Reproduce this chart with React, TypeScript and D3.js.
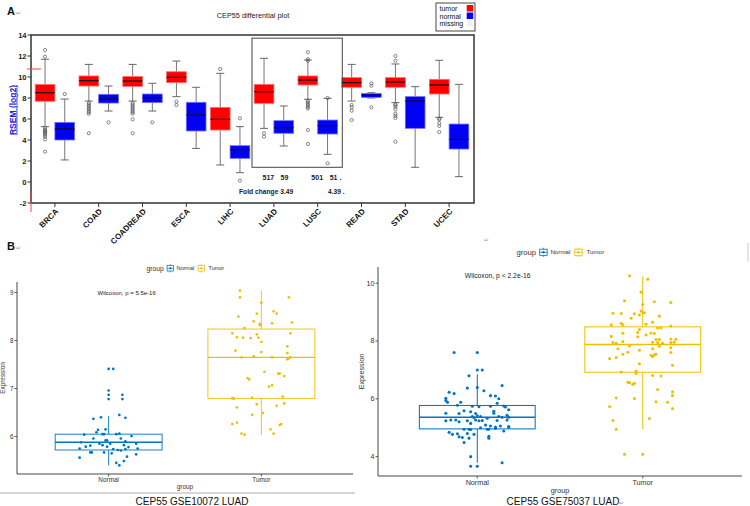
import React from 'react';
import * as d3 from 'd3';

// ---------------- Panel A data ----------------
const cancerTypes = ['BRCA', 'COAD', 'COADREAD', 'ESCA', 'LIHC', 'LUAD', 'LUSC', 'READ', 'STAD', 'UCEC'];
// [lowerWhisker, q1, median, q3, upperWhisker]
const tumorStats = [
  [5.27, 7.69, 8.5, 9.3, 11.69],
  [7.71, 9.14, 9.65, 10.1, 11.2],
  [7.71, 9.1, 9.62, 10.05, 11.2],
  [8.13, 9.46, 9.97, 10.5, 11.52],
  [1.62, 4.95, 5.97, 7.11, 10.35],
  [5.11, 7.49, 8.6, 9.3, 11.78],
  [7.88, 9.24, 9.71, 10.1, 11.62],
  [7.71, 9.02, 9.46, 9.94, 11.2],
  [7.56, 9.02, 9.52, 9.94, 11.24],
  [6.16, 8.38, 9.24, 9.78, 11.59],
];
const normalStats = [
  [2.1, 4.0, 5.05, 5.68, 7.9],
  [6.76, 7.52, 7.9, 8.35, 9.14],
  [6.76, 7.56, 8.03, 8.38, 9.4],
  [3.2, 4.86, 6.38, 7.59, 9.02],
  [0.89, 2.25, 3.08, 3.46, 5.27],
  [3.43, 4.64, 5.17, 5.84, 7.24],
  [2.64, 4.57, 5.37, 5.9, 7.97],
  [8.0, 8.06, 8.25, 8.44, 8.5],
  [1.4, 5.11, 7.71, 8.13, 9.08],
  [0.51, 3.14, 4.06, 5.52, 9.3],
];
const tumorOutliers = [
  [12.57, 11.93, 5.15, 5.0, 4.9, 4.8, 4.7, 4.6, 4.45, 4.3, 4.05, 2.89],
  [7.55, 7.4, 7.25, 7.1, 6.95, 6.8, 6.65, 6.5, 4.64],
  [7.55, 7.4, 7.25, 7.1, 6.95, 6.8, 6.65, 6.5, 5.97, 4.64],
  [7.65, 7.33],
  [10.76],
  [4.64, 4.32],
  [12.35, 11.7, 11.55, 7.75, 7.6, 7.45, 7.3, 7.15, 7.0, 4.95, 3.62],
  [7.33, 7.11, 6.79, 5.9],
  [12.0, 11.55, 7.4, 7.3, 7.15, 6.9, 6.5, 6.3, 6.1, 3.84],
  [6.05, 5.95, 5.6, 5.35, 4.75],
];
const normalOutliers = [
  [8.38],
  [5.68],
  [5.68],
  [],
  [6.06, 0.13],
  [],
  [8.0, 1.78],
  [9.4, 9.17, 7.11],
  [],
  [],
];
const yTicksA = [-2, 0, 2, 4, 6, 8, 10, 12, 14];
const legendLabelsA = ['tumor', 'normal', 'missing'];
const sampleCounts = ['517', '59', '501', '51 .'];
const foldChanges = ['Fold change 3.49', '4.39 .'];

// ---------------- Panel B data ----------------
const groups = ['Normal', 'Tumor'];
// [lowerWhisker, q1, median, q3, upperWhisker]
const gse10072Stats = [
  [5.40, 5.72, 5.88, 6.05, 6.43],
  [6.03, 6.79, 7.65, 8.24, 9.04],
];
const gse75037Stats = [
  [3.79, 4.96, 5.36, 5.77, 6.85],
  [4.96, 6.92, 7.88, 8.49, 10.25],
];
// [jitter (in category steps), expression]
const gse10072Normal = [
  [0, 7.41], [0.03, 7.41], [0, 6.96], [0, 6.87], [0, 6.78], [0.09, 6.87], [0.09, 6.78],
  [-0.1, 6.37], [-0.05, 6.4], [0.07, 6.45], [0.11, 6.39], [-0.07, 6.14], [-0.02, 6.15],
  [-0.08, 6.09], [-0.16, 6.04], [-0.04, 6.05], [-0.03, 6.05], [0.05, 6.05], [0.07, 6.06],
  [0.15, 6.01], [-0.1, 5.96], [0.08, 5.96], [-0.02, 5.92], [-0.01, 5.92], [0.11, 5.9],
  [-0.18, 5.88], [-0.12, 5.81], [-0.15, 5.79], [-0.04, 5.82], [-0.01, 5.79], [0.1, 5.82],
  [0.18, 5.85], [-0.19, 5.75], [0.13, 5.78], [0.03, 5.74], [0.19, 5.75], [0.06, 5.72],
  [0.08, 5.71], [0.11, 5.74], [-0.12, 5.67], [-0.11, 5.67], [-0.03, 5.67], [0.02, 5.65],
  [0.18, 5.63], [-0.19, 5.56], [0.12, 5.58], [0.05, 5.45], [0.1, 5.49], [0.07, 5.4],
  [0.01, 5.85], [-0.06, 5.85],
];
const gse10072Tumor = [
  [-0.14, 9.04], [-0.14, 8.9], [0.18, 8.9], [0, 8.79], [-0.15, 8.5], [-0.03, 8.56],
  [0.08, 8.61], [0.1, 8.56], [-0.05, 8.4], [-0.01, 8.35], [-0.01, 8.32], [0.07, 8.36],
  [0.2, 8.38], [-0.11, 8.26], [-0.19, 8.15], [-0.03, 8.13], [0.19, 8.15], [-0.16, 8.07],
  [-0.12, 8.06], [-0.07, 8.05], [-0.02, 8.06], [0, 7.97], [0.17, 7.88], [-0.17, 7.79],
  [0, 7.76], [0.17, 7.74], [-0.13, 7.65], [-0.05, 7.67], [0.07, 7.65], [0.17, 7.61],
  [0.19, 7.65], [0.18, 7.63], [0.02, 7.35], [0.11, 7.31], [0.12, 7.31], [0.15, 7.26],
  [-0.09, 7.22], [-0.08, 7.19], [0.07, 7.07], [0.05, 7.04], [-0.19, 6.8], [-0.18, 6.79],
  [-0.06, 6.81], [0.14, 6.83], [-0.16, 6.61], [-0.03, 6.67], [0.1, 6.64], [0.15, 6.69],
  [-0.06, 6.45], [0.01, 6.49], [-0.19, 6.26], [-0.16, 6.29], [0.12, 6.24], [0.13, 6.26],
  [-0.13, 6.06], [-0.11, 6.04], [0.06, 6.15], [0.08, 6.06],
];
const gse75037Normal = [
  [-0.14, 7.6], [0, 7.6], [0, 7.0], [0.03, 7.0], [-0.05, 6.8], [0.15, 6.46], [-0.06, 6.37],
  [0, 6.39], [-0.17, 6.23], [-0.14, 6.18], [0.04, 6.28], [0.08, 6.11], [0.11, 6.1],
  [-0.19, 6.02], [-0.19, 5.94], [-0.18, 5.88], [-0.1, 5.88], [0.13, 6.0], [0.12, 5.85],
  [-0.03, 5.74], [0.08, 5.74], [0.16, 5.75], [-0.12, 5.78], [0.01, 5.73], [0.17, 5.72],
  [-0.08, 5.59], [-0.04, 5.55], [0.1, 5.57], [0.1, 5.5], [0.19, 5.62], [-0.19, 5.5],
  [-0.11, 5.49], [-0.01, 5.49], [0, 5.41], [-0.03, 5.39], [-0.02, 5.35], [0.02, 5.39],
  [0.06, 5.33], [0.13, 5.39], [0.18, 5.43], [0.19, 5.36], [0.15, 5.36], [-0.16, 5.27],
  [-0.13, 5.27], [-0.19, 5.24], [-0.06, 5.24], [-0.01, 5.27], [0.01, 5.24], [0.03, 5.25],
  [0.12, 5.25], [0.18, 5.27], [-0.11, 5.21], [-0.04, 5.15], [0.05, 5.09], [0.08, 5.06],
  [0.11, 5.02], [0.14, 5.06], [0.19, 5.04], [-0.08, 4.95], [-0.05, 4.95], [-0.04, 4.94],
  [0.02, 5.0], [0.06, 4.95], [0.07, 4.95], [0.11, 4.97], [0.19, 5.02], [-0.17, 4.84],
  [-0.15, 4.77], [-0.12, 4.79], [-0.11, 4.69], [-0.09, 4.66], [-0.06, 4.8], [-0.02, 4.77],
  [0.07, 4.7], [0.07, 4.64], [0.16, 4.89], [-0.08, 4.49], [-0.05, 4.64], [-0.04, 4.0],
  [-0.04, 3.67], [0, 3.67], [0.15, 3.79],
];
const gse75037Tumor = [
  [-0.08, 10.26], [0.03, 10.14], [-0.01, 9.69], [-0.11, 9.39], [0.07, 9.36], [0.17, 9.33],
  [0, 9.26], [-0.01, 9.04], [0, 8.98], [-0.18, 8.96], [-0.13, 8.95], [-0.05, 8.94],
  [-0.02, 8.9], [0.01, 8.98], [0.1, 8.86], [-0.07, 8.79], [0.06, 8.65], [-0.19, 8.56],
  [-0.13, 8.61], [-0.12, 8.56], [0.02, 8.58], [0.09, 8.45], [0.11, 8.45], [0.17, 8.52],
  [-0.02, 8.4], [-0.03, 8.29], [-0.12, 8.27], [0.05, 8.28], [0.07, 8.26], [-0.19, 8.16],
  [-0.03, 8.15], [0.02, 8.21], [0.08, 8.05], [0.1, 8.05], [0.17, 8.07], [0.2, 8.06],
  [-0.18, 7.95], [-0.16, 7.92], [-0.12, 7.98], [0.06, 7.96], [0.09, 7.95], [0.12, 7.92],
  [0.17, 7.95], [0.19, 7.96], [-0.08, 7.83], [0.1, 7.82], [0.17, 7.77], [-0.15, 7.73],
  [-0.09, 7.61], [-0.02, 7.68], [0.06, 7.73], [-0.12, 7.54], [0.05, 7.51], [0.06, 7.46],
  [0.07, 7.52], [0.08, 7.54], [0.17, 7.6], [-0.2, 7.39], [-0.16, 7.43], [-0.02, 7.21],
  [0.18, 7.16], [-0.13, 6.93], [-0.04, 6.96], [-0.04, 6.88], [0.06, 6.81], [0.11, 6.79],
  [-0.09, 6.57], [-0.08, 6.56], [-0.06, 6.5], [-0.05, 6.54], [0.09, 6.32], [0.18, 6.24],
  [0.18, 6.11], [-0.16, 6.03], [-0.05, 6.01], [0.08, 5.9], [0.15, 5.88], [-0.2, 5.73],
  [0.18, 5.66], [0.04, 5.32], [-0.18, 5.25], [-0.16, 4.95], [-0.11, 4.08], [0, 4.08],
];
const yTicks10072 = [6, 7, 8, 9];
const yTicks75037 = [4, 6, 8, 10];

const FONT = 'Liberation Sans, Arial, Helvetica, sans-serif';
const RED = '#ff0000';
const BLUE = '#0000f5';
const NCOL = '#0073C2';
const TCOL = '#EFC000';

function PanelA() {
  const x = d3.scaleBand().domain(cancerTypes).range([33, 471]).padding(0);
  const y = d3.scaleLinear().domain([-2, 14]).range([203, 35]);
  const bw = x.bandwidth() * 0.45;
  const cap = 4;
  const frame = { x0: 31, x1: 474, y0: 35, y1: 203 };

  const drawBox = (key: string, cx: number, st: number[], outs: number[], fill: string, stroke: string) => {
    const [lo, q1, med, q3, hi] = st;
    return (
      <g key={key}>
        <line x1={cx} x2={cx} y1={y(hi)} y2={y(q3)} stroke="#777" strokeWidth={1} />
        <line x1={cx} x2={cx} y1={y(q1)} y2={y(lo)} stroke="#777" strokeWidth={1} />
        <line x1={cx - cap} x2={cx + cap} y1={y(hi)} y2={y(hi)} stroke="#666" strokeWidth={1} />
        <line x1={cx - cap} x2={cx + cap} y1={y(lo)} y2={y(lo)} stroke="#666" strokeWidth={1} />
        <rect x={cx - bw / 2} y={y(q3)} width={bw} height={Math.max(1, y(q1) - y(q3))} fill={fill} stroke={stroke} strokeWidth={0.8} />
        <line x1={cx - bw / 2} x2={cx + bw / 2} y1={y(med)} y2={y(med)} stroke="#111" strokeWidth={1.2} />
        {outs.map((o, i) => (
          <circle key={i} cx={cx} cy={y(o)} r={1.6} fill="none" stroke="#555" strokeWidth={0.7} />
        ))}
      </g>
    );
  };

  const cLUAD = x('LUAD')! + x.bandwidth() / 2;
  const cLUSC = x('LUSC')! + x.bandwidth() / 2;

  return (
    <g fontFamily={FONT}>
      <text x={7} y={15} fontSize={11} fontWeight="bold" fill="#111">A</text>
      <text x={16} y={15} fontSize={6} fill="#999">↵</text>
      <text x={253} y={18} fontSize={7.3} textAnchor="middle" fill="#222">CEP55 differential plot</text>

      {/* legend */}
      <rect x={436} y={3} width={39} height={28} fill="#fff" stroke="#333" strokeWidth={0.9} />
      {legendLabelsA.map((l, i) => (
        <g key={l}>
          <text x={439.5} y={11 + i * 7.6} fontSize={7} fill="#111">{l}</text>
          <rect x={466.7} y={5 + i * 7.5} width={6.5} height={6.5} fill={[RED, BLUE, '#f2f2f2'][i]} />
        </g>
      ))}

      {/* y axis */}
      {yTicksA.map(t => (
        <g key={t}>
          <line x1={27.5} x2={frame.x0} y1={y(t)} y2={y(t)} stroke="#333" strokeWidth={1} />
          <text x={26.5} y={y(t)} dy="0.35em" textAnchor="end" fontSize={7.5} fontWeight="bold" fill="#222">{t}</text>
        </g>
      ))}
      <text transform={`translate(15.5,${(frame.y0 + frame.y1) / 2 - 9}) rotate(-90)`} textAnchor="middle"
        fontSize={8.5} fontWeight="bold" fill="#2020e0" textDecoration="underline">RSEM (log2)</text>

      {/* boxes */}
      {cancerTypes.map((c, i) => {
        const cx = x(c)! + x.bandwidth() / 2;
        return (
          <g key={c}>
            {drawBox('t' + c, cx - bw / 2, tumorStats[i], tumorOutliers[i], RED, '#ff7070')}
            {drawBox('n' + c, cx + bw / 2, normalStats[i], normalOutliers[i], BLUE, '#7070ff')}
          </g>
        );
      })}

      {/* frame */}
      <rect x={frame.x0} y={frame.y0} width={frame.x1 - frame.x0} height={frame.y1 - frame.y0} fill="none" stroke="#333" strokeWidth={1.5} />

      {/* x axis ticks & labels */}
      {cancerTypes.map(c => {
        const cx = x(c)! + x.bandwidth() / 2;
        return (
          <g key={c}>
            <line x1={cx} x2={cx} y1={frame.y1} y2={frame.y1 + 4} stroke="#333" strokeWidth={1} />
            <text transform={`translate(${cx + 2},${frame.y1 + 7}) rotate(-45)`} textAnchor="end" dy="0.35em"
              fontSize={8} fontWeight="bold" fill="#111">{c}</text>
          </g>
        );
      })}

      {/* LUAD/LUSC highlight */}
      <rect x={x('LUAD')!} y={y(13.7)} width={x('LUSC')! + x.bandwidth() + 2.7 - x('LUAD')!} height={y(1.4) - y(13.7)}
        fill="none" stroke="#444" strokeWidth={1} />
      <text x={cLUAD - 5.5} y={180} fontSize={7} fontWeight="bold" textAnchor="middle" fill="#222">{sampleCounts[0]}</text>
      <text x={cLUAD + 10.5} y={180} fontSize={7} fontWeight="bold" textAnchor="middle" fill="#222">{sampleCounts[1]}</text>
      <text x={cLUSC - 0.5} y={180} fontSize={7} fontWeight="bold" textAnchor="middle" fill="#222">{sampleCounts[2]}</text>
      <text x={cLUSC + 12} y={180} fontSize={7} fontWeight="bold" textAnchor="start" fill="#222">{sampleCounts[3]}</text>
      <text x={239} y={193.5} fontSize={6.7} fontWeight="bold" fill="#222">{foldChanges[0]}</text>
      <text x={328} y={193.5} fontSize={6.7} fontWeight="bold" fill="#222">{foldChanges[1]}</text>

      {/* red marks */}
      <line x1={27} x2={41} y1={69} y2={69} stroke="#ff4040" strokeWidth={1} />
      <line x1={31} x2={31} y1={193} y2={212} stroke="#ff4040" strokeWidth={1} />
    </g>
  );
}

function LegendIcon({ x, y, color, s }: { x: number; y: number; color: string; s: number }) {
  const w = 7.7 * s, h = 5.4 * s;
  return (
    <g>
      <rect x={x} y={y - 4.2 * s} width={w} height={8.4 * s} fill="#f2f2f2" />
      <line x1={x + w / 2} x2={x + w / 2} y1={y - 4 * s} y2={y + 4 * s} stroke={color} strokeWidth={0.7 * s} />
      <rect x={x + 0.6} y={y - h / 2} width={w - 1.2} height={h} fill="#fff" stroke={color} strokeWidth={0.7 * s} />
      <line x1={x + 0.6} x2={x + w - 0.6} y1={y} y2={y} stroke={color} strokeWidth={0.7 * s} />
      <circle cx={x + w / 2} cy={y} r={1.1 * s} fill={color} />
    </g>
  );
}

type BoxJitterProps = {
  x0: number; x1: number; top: number; bottom: number;
  yDomain: [number, number]; yTicks: number[];
  stats: number[][]; points: number[][][];
  wilcox: string; wilcoxY: number; legendY: number; s: number;
  caption: string; captionX: number; captionSuffix?: string;
};

function BoxJitter(p: BoxJitterProps) {
  const { x0, x1, top, bottom, s } = p;
  const x = d3.scalePoint().domain(groups).range([x0, x1]).padding(0.6);
  const y = d3.scaleLinear().domain(p.yDomain).range([bottom, top]);
  const step = x.step();
  const bw = step * 0.7;
  const cols = [NCOL, TCOL];
  const lc = (x0 + x1) / 2;
  const lstart = lc - (77 * s) / 2;
  return (
    <g fontFamily={FONT}>
      {/* legend */}
      <text x={lstart} y={p.legendY} dy="0.35em" fontSize={6.8 * s} fill="#333">group</text>
      <LegendIcon x={lstart + 20 * s} y={p.legendY} color={NCOL} s={s} />
      <text x={lstart + 30 * s} y={p.legendY} dy="0.35em" fontSize={5.5 * s} fill="#333">Normal</text>
      <LegendIcon x={lstart + 51 * s} y={p.legendY} color={TCOL} s={s} />
      <text x={lstart + 62 * s} y={p.legendY} dy="0.35em" fontSize={5.5 * s} fill="#333">Tumor</text>

      {/* boxes */}
      {groups.map((g, i) => {
        const cx = x(g)!;
        const [lo, q1, med, q3, hi] = p.stats[i];
        return (
          <g key={g}>
            <line x1={cx} x2={cx} y1={y(hi)} y2={y(q3)} stroke={cols[i]} strokeWidth={0.9 * s} />
            <line x1={cx} x2={cx} y1={y(q1)} y2={y(lo)} stroke={cols[i]} strokeWidth={0.9 * s} />
            <rect x={cx - bw / 2} y={y(q3)} width={bw} height={y(q1) - y(q3)} fill="none" stroke={cols[i]} strokeWidth={0.9 * s} />
            <line x1={cx - bw / 2} x2={cx + bw / 2} y1={y(med)} y2={y(med)} stroke={cols[i]} strokeWidth={1.4 * s} />
          </g>
        );
      })}
      {/* points */}
      {groups.map((g, i) => (
        <g key={'p' + g}>
          {p.points[i].map((d, k) => (
            <circle key={k} cx={x(g)! + d[0] * step} cy={y(d[1])} r={1.35 * s} fill={cols[i]} />
          ))}
        </g>
      ))}

      <text x={x('Normal')! + 18 * s} y={p.wilcoxY} dy="0.35em" textAnchor="middle" fontSize={6 * s} fill="#222">{p.wilcox}</text>

      {/* axes */}
      <line x1={x0} x2={x0} y1={top} y2={bottom} stroke="#333" strokeWidth={0.9} />
      <line x1={x0} x2={x1} y1={bottom} y2={bottom} stroke="#333" strokeWidth={0.9} />
      {p.yTicks.map(t => (
        <g key={t}>
          <line x1={x0 - 2.5} x2={x0} y1={y(t)} y2={y(t)} stroke="#333" strokeWidth={0.8} />
          <text x={x0 - 3.5} y={y(t)} dy="0.35em" textAnchor="end" fontSize={6.3 * s} fill="#333">{t}</text>
        </g>
      ))}
      {groups.map(g => (
        <g key={'t' + g}>
          <line x1={x(g)!} x2={x(g)!} y1={bottom} y2={bottom + 2.5} stroke="#333" strokeWidth={0.8} />
          <text x={x(g)!} y={bottom + 5.5 * s} dy="0.35em" textAnchor="middle" fontSize={6.4 * s} fill="#333">{g}</text>
        </g>
      ))}
      <text x={lc} y={bottom + 13 * s} dy="0.35em" textAnchor="middle" fontSize={6.4 * s} fill="#333">group</text>
      <text transform={`translate(${x0 - 12 * s},${(top + bottom) / 2}) rotate(-90)`} textAnchor="middle"
        fontSize={6.4 * s} fill="#333">Expression</text>

      <text x={p.captionX} y={505} textAnchor="middle" fontSize={10} fill="#111">{p.caption}</text>
      {p.captionSuffix ? (
        <text x={p.captionX + 56} y={505} fontSize={6} fill="#999">{p.captionSuffix}</text>
      ) : null}
    </g>
  );
}

export default function App() {
  return (
    <svg width={750} height={506} style={{ position: 'absolute', left: 0, top: 0, background: '#fff' }}>
      <rect x={0} y={0} width={750} height={506} fill="#fff" />
      <PanelA />
      <g fontFamily={FONT}>
        <text x={7} y={250} fontSize={11} fontWeight="bold" fill="#111">B</text>
        <text x={16} y={250} fontSize={6} fill="#999">↵</text>
        <text x={484} y={242} fontSize={6} fill="#999">↵</text>
      </g>
      <BoxJitter x0={17} x1={353} top={282} bottom={474} yDomain={[5.22, 9.22]} yTicks={yTicks10072}
        stats={gse10072Stats} points={[gse10072Normal, gse10072Tumor]}
        wilcox="Wilcoxon, p = 5.5e-16" wilcoxY={292.7} legendY={268.3} s={1}
        caption="CEP55 GSE10072 LUAD" captionX={192} />
      <BoxJitter x0={378} x1={742} top={267} bottom={476} yDomain={[3.33, 10.56]} yTicks={yTicks75037}
        stats={gse75037Stats} points={[gse75037Normal, gse75037Tumor]}
        wilcox="Wilcoxon, p < 2.2e-16" wilcoxY={276} legendY={252.3} s={1.13}
        caption="CEP55 GSE75037 LUAD" captionX={563} captionSuffix="↵" />
      <line x1={0} x2={355} y1={493} y2={493} stroke="#999" strokeWidth={0.8} />
      <line x1={748} x2={748} y1={243} y2={262} stroke="#ccc" strokeWidth={1} />
    </svg>
  );
}
